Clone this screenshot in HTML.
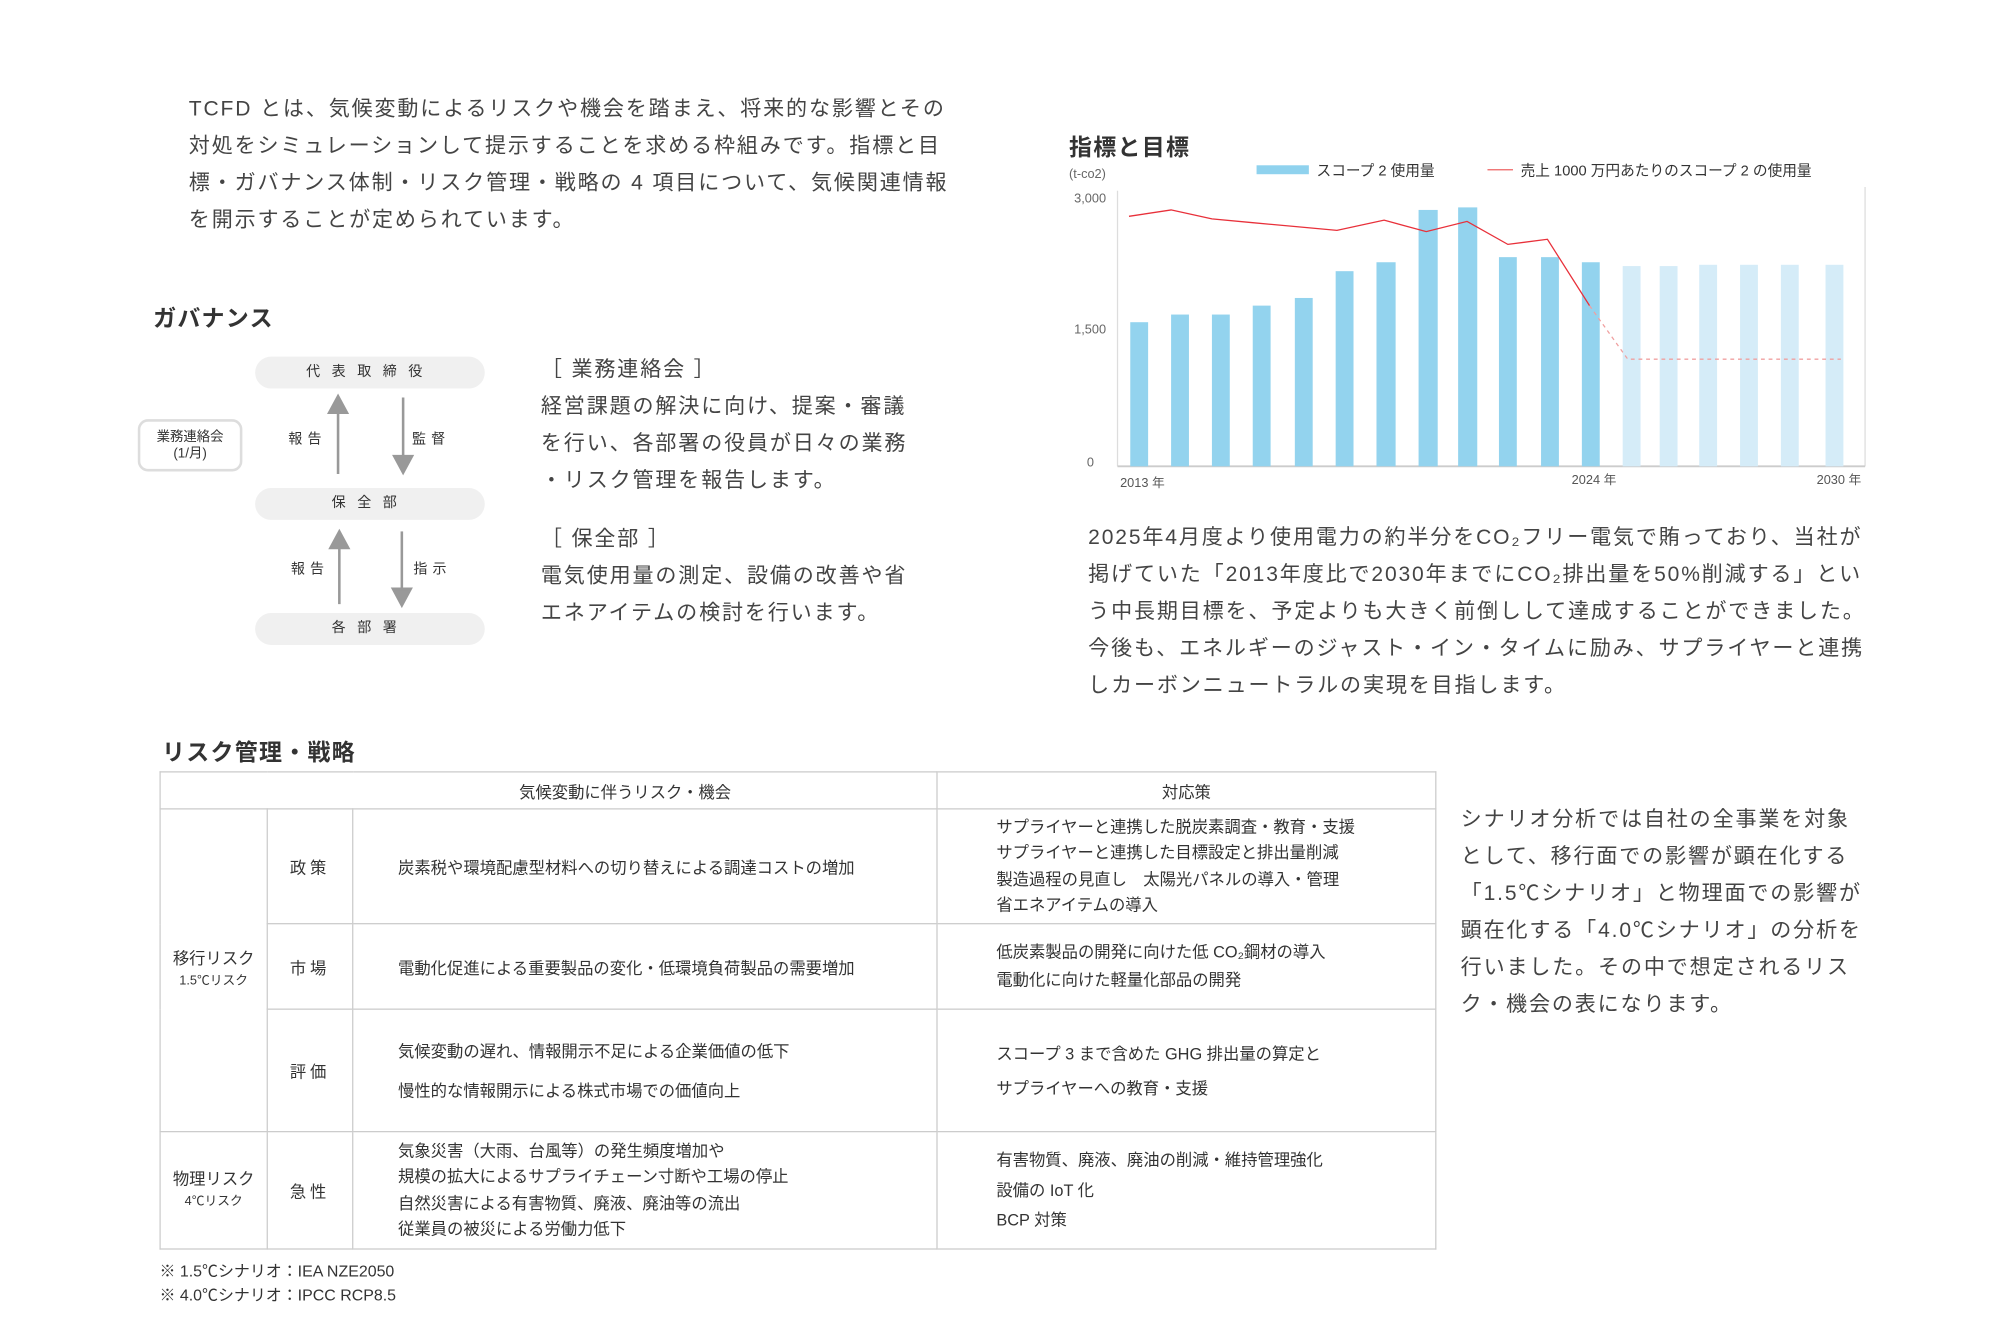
<!DOCTYPE html>
<html><head><meta charset="utf-8"><style>
html,body{margin:0;padding:0;background:#fff;}
body{width:2000px;height:1342px;overflow:hidden;}
#w{position:absolute;left:0;top:2px;width:1560px;height:1047px;transform:scale(1.2757);transform-origin:0 0;font-family:"Liberation Sans","Noto Sans CJK JP",sans-serif;color:#444;}
.a{position:absolute;white-space:nowrap;}
.p{font-size:16.5px;letter-spacing:1.45px;line-height:29px;color:#444;}
.h{font-size:18px;font-weight:bold;color:#333;letter-spacing:1px;}
.pill{position:absolute;left:200px;width:180px;height:25px;background:#f0f0f0;border-radius:13px;text-align:center;line-height:25px;font-size:11px;letter-spacing:9px;color:#333;}
.sm{font-size:11px;color:#333;letter-spacing:4px;}
table{position:absolute;left:125px;top:603px;width:1001px;border-collapse:collapse;font-size:12.8px;color:#333;}
td{border:1.5px solid #ccc;padding:0;}
</style></head><body><div id="w">
<div class="a p" style="left:148px;top:70px;">TCFD とは、気候変動によるリスクや機会を踏まえ、将来的な影響とその<br>対処をシミュレーションして提示することを求める枠組みです。指標と目<br>標・ガバナンス体制・リスク管理・戦略の 4 項目について、気候関連情報<br>を開示することが定められています。</div>

<div class="a h" style="left:120px;top:234px;">ガバナンス</div>
<div class="pill" style="top:278px;">代表取締役</div>
<div class="pill" style="top:381px;">保全部</div>
<div class="pill" style="top:479px;">各部署</div>
<div class="a" style="left:108px;top:327px;width:78px;height:37px;border:2.5px solid #ddd;border-radius:8px;text-align:center;font-size:10.5px;line-height:13px;color:#333;padding-top:0;"><div style="margin-top:6px">業務連絡会<br>(1/月)</div></div>
<svg class="a" style="left:0;top:0" width="400" height="520">
<g stroke="#999" stroke-width="2" fill="#999">
<line x1="265" y1="370" x2="265" y2="318"/><polygon points="258,322 272,322 265,309"/>
<line x1="316" y1="310" x2="316" y2="360"/><polygon points="309,356 323,356 316,369"/>
<line x1="266" y1="472" x2="266" y2="424"/><polygon points="259,428 273,428 266,415"/>
<line x1="315" y1="415" x2="315" y2="464"/><polygon points="308,460 322,460 315,473"/>
</g></svg>
<div class="a sm" style="left:226px;top:334px;">報告</div>
<div class="a sm" style="left:323px;top:334px;">監督</div>
<div class="a sm" style="left:228px;top:436px;">報告</div>
<div class="a sm" style="left:324px;top:436px;">指示</div>
<div class="a p" style="left:424px;top:274px;">［ 業務連絡会 ］</div>
<div class="a p" style="left:424px;top:303px;">経営課題の解決に向け、提案・審議<br>を行い、各部署の役員が日々の業務<br>・リスク管理を報告します。</div>
<div class="a p" style="left:424px;top:407px;">［ 保全部 ］</div>
<div class="a p" style="left:424px;top:436px;">電気使用量の測定、設備の改善や省<br>エネアイテムの検討を行います。</div>

<div class="a h" style="left:838px;top:100px;">指標と目標</div>
<div class="a" style="left:838px;top:130px;font-size:10px;color:#666;">(t-co2)</div>
<div class="a" style="left:985px;top:128px;width:41px;height:7px;background:#8fd2ee;"></div>
<div class="a" style="left:1032px;top:124px;font-size:11.5px;color:#333;">スコープ 2 使用量</div>
<div class="a" style="left:1166px;top:131px;width:20px;height:1px;background:#e66;"></div>
<div class="a" style="left:1192px;top:124px;font-size:11.5px;color:#333;">売上 1000 万円あたりのスコープ 2 の使用量</div>
<div class="a" style="left:842px;top:149px;font-size:10px;color:#666;">3,000</div>
<div class="a" style="left:842px;top:252px;font-size:10px;color:#666;">1,500</div>
<div class="a" style="left:852px;top:356px;font-size:10px;color:#666;">0</div>
<div class="a" style="left:878px;top:368px;font-size:10px;color:#555;">2013 年</div>
<div class="a" style="left:1232px;top:366px;font-size:10px;color:#555;">2024 年</div>
<div class="a" style="left:1424px;top:366px;font-size:10px;color:#555;">2030 年</div>
<svg class="a" style="left:0;top:0" width="1560" height="400">
<line x1="876" y1="148" x2="876" y2="364" stroke="#ddd" stroke-width="1"/>
<line x1="1462" y1="145" x2="1462" y2="364" stroke="#ddd" stroke-width="1"/>
<line x1="876" y1="364" x2="1462" y2="364" stroke="#ccc" stroke-width="1.5"/>
<g fill="#93d3ee">
<rect x="886" y="251" width="14" height="113"/><rect x="918" y="245" width="14" height="119"/><rect x="950" y="245" width="14" height="119"/><rect x="982" y="238" width="14" height="126"/><rect x="1015" y="232" width="14" height="132"/><rect x="1047" y="211" width="14" height="153"/><rect x="1079" y="204" width="15" height="160"/><rect x="1112" y="163" width="15" height="201"/><rect x="1143" y="161" width="15" height="203"/><rect x="1175" y="200" width="14" height="164"/><rect x="1208" y="200" width="14" height="164"/><rect x="1240" y="204" width="14" height="160"/>
</g>
<g fill="#d5ecf8">
<rect x="1272" y="207" width="14" height="157"/><rect x="1301" y="207" width="14" height="157"/><rect x="1332" y="206" width="14" height="158"/><rect x="1364" y="206" width="14" height="158"/><rect x="1396" y="206" width="14" height="158"/><rect x="1431" y="206" width="14" height="158"/>
</g>
<polyline fill="none" stroke="#e8303a" stroke-width="1" points="885,168 918,163 950,170 982,173 1015,176 1048,179 1085,171 1118,180 1150,172 1182,190 1213,186 1246,238"/>
<polyline fill="none" stroke="#f0a0a0" stroke-width="1" stroke-dasharray="3,3" points="1246,238 1276,280 1443,280"/>
</svg>
<div class="a p" style="left:853px;top:406px;">2025年4月度より使用電力の約半分をCO₂フリー電気で賄っており、当社が<br>掲げていた「2013年度比で2030年までにCO₂排出量を50%削減する」とい<br>う中長期目標を、予定よりも大きく前倒しして達成することができました。<br>今後も、エネルギーのジャスト・イン・タイムに励み、サプライヤーと連携<br>しカーボンニュートラルの実現を目指します。</div>

<div class="a h" style="left:127px;top:574px;">リスク管理・戦略</div>
<table>
<tr style="height:29px"><td colspan="3" style="text-align:center;padding-left:120px">気候変動に伴うリスク・機会</td><td style="text-align:center;width:390px">対応策</td></tr>
<tr style="height:90px"><td rowspan="3" style="width:83px;text-align:center;line-height:16px">移行リスク<br><span style="font-size:10px">1.5℃リスク</span></td><td style="width:66px;text-align:center;letter-spacing:3px">政策</td><td style="padding-left:35px;width:422px">炭素税や環境配慮型材料への切り替えによる調達コストの増加</td><td style="padding-left:46px;line-height:20.5px">サプライヤーと連携した脱炭素調査・教育・支援<br>サプライヤーと連携した目標設定と排出量削減<br>製造過程の見直し　太陽光パネルの導入・管理<br>省エネアイテムの導入</td></tr>
<tr style="height:67px"><td style="text-align:center;letter-spacing:3px">市場</td><td style="padding-left:35px">電動化促進による重要製品の変化・低環境負荷製品の需要増加</td><td style="padding-left:46px;line-height:22px">低炭素製品の開発に向けた低 CO₂鋼材の導入<br>電動化に向けた軽量化部品の開発</td></tr>
<tr style="height:96px"><td style="text-align:center;letter-spacing:3px">評価</td><td style="padding-left:35px;line-height:31px">気候変動の遅れ、情報開示不足による企業価値の低下<br>慢性的な情報開示による株式市場での価値向上</td><td style="padding-left:46px;line-height:27px">スコープ 3 まで含めた GHG 排出量の算定と<br>サプライヤーへの教育・支援</td></tr>
<tr style="height:92px"><td style="text-align:center;line-height:16px">物理リスク<br><span style="font-size:10px">4℃リスク</span></td><td style="text-align:center;letter-spacing:3px">急性</td><td style="padding-left:35px;line-height:20.5px">気象災害（大雨、台風等）の発生頻度増加や<br>規模の拡大によるサプライチェーン寸断や工場の停止<br>自然災害による有害物質、廃液、廃油等の流出<br>従業員の被災による労働力低下</td><td style="padding-left:46px;line-height:23.5px">有害物質、廃液、廃油の削減・維持管理強化<br>設備の IoT 化<br>BCP 対策</td></tr>
</table>
<div class="a" style="left:125px;top:986px;font-size:12.5px;line-height:18.5px;color:#333;">※ 1.5℃シナリオ：IEA NZE2050<br>※ 4.0℃シナリオ：IPCC RCP8.5</div>
<div class="a p" style="left:1145px;top:627px;">シナリオ分析では自社の全事業を対象<br>として、移行面での影響が顕在化する<br>「1.5℃シナリオ」と物理面での影響が<br>顕在化する「4.0℃シナリオ」の分析を<br>行いました。その中で想定されるリス<br>ク・機会の表になります。</div>
</div></body></html>
